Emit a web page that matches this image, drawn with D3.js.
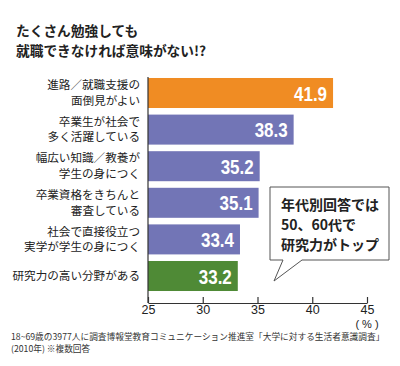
<!DOCTYPE html>
<html>
<head>
<meta charset="utf-8">
<script src="https://cdn.jsdelivr.net/npm/d3@7"></script>
<style>
  body { margin: 0; background: #fff; }
  svg { display: block; }
</style>
</head>
<body>
<svg id="chart" width="400" height="366"></svg>
<script>
// Chart data
const titleLines = ['たくさん勉強しても', '就職できなければ意味がない!?'];
const categories = [
    ['進路／就職支援の', '面倒見がよい'],
    ['卒業生が社会で', '多く活躍している'],
    ['幅広い知識／教養が', '学生の身につく'],
    ['卒業資格をきちんと', '審査している'],
    ['社会で直接役立つ', '実学が学生の身につく'],
    ['研究力の高い分野がある']
];
const values = [41.9, 38.3, 35.2, 35.1, 33.4, 33.2];
const barColors = ['#f08c23', '#7275b6', '#7275b6', '#7275b6', '#7275b6', '#4f8a36'];
const xTicks = [25, 30, 35, 40, 45];
const calloutLines = ['年代別回答では', '50、60代で', '研究力がトップ'];
const footnoteLines = [
    '18~69歳の3977人に調査博報堂教育コミュニケーション推進室「大学に対する生活者意識調査」',
    '(2010年) ※複数回答'
];

const jpFont = '"Noto Sans CJK JP", "Noto Sans", sans-serif';
const numFont = '"Liberation Sans", "DejaVu Sans", sans-serif';

const svg = d3.select('#chart');

// Scales
const x = d3.scaleLinear().domain([25, 45]).range([148, 367]);
const y = d3.scaleBand()
    .domain(d3.range(values.length))
    .range([74.7, 294.3])
    .paddingInner(0.18)
    .paddingOuter(0.09);

// Title
svg.append('g').selectAll('text')
    .data(titleLines)
    .enter().append('text')
    .attr('x', 16)
    .attr('y', (d, i) => 36 + i * 19.5)
    .attr('font-family', jpFont)
    .attr('font-weight', 'bold')
    .attr('font-size', 13.7)
    .attr('fill', '#222')
    .text(d => d);

// Bars
const bars = svg.append('g');
bars.selectAll('rect')
    .data(values)
    .enter().append('rect')
    .attr('x', x(25))
    .attr('y', (d, i) => y(i))
    .attr('width', d => x(d) - x(25))
    .attr('height', y.bandwidth())
    .attr('fill', (d, i) => barColors[i]);

// Value labels inside bar ends (condensed look via textLength)
bars.selectAll('text')
    .data(values)
    .enter().append('text')
    .attr('x', d => x(d) - 6)
    .attr('y', (d, i) => y(i) + y.bandwidth() / 2 + 7.5)
    .attr('text-anchor', 'end')
    .attr('font-family', numFont)
    .attr('font-weight', 'bold')
    .attr('font-size', 21)
    .attr('textLength', 33)
    .attr('lengthAdjust', 'spacingAndGlyphs')
    .attr('fill', '#fff')
    .text(d => d.toFixed(1));

// Category labels (one or two lines)
const labels = svg.append('g')
    .selectAll('text')
    .data(categories)
    .enter().append('text')
    .attr('text-anchor', 'end')
    .attr('font-family', jpFont)
    .attr('font-size', 11.6)
    .attr('fill', '#222');
labels.each(function(lines, i) {
    const mid = y(i) + y.bandwidth() / 2;
    const lh = 15.5;
    const top = mid - (lines.length - 1) * lh / 2;
    d3.select(this).selectAll('tspan')
        .data(lines)
        .enter().append('tspan')
        .attr('x', 140)
        .attr('y', (d, j) => top + j * lh + 4)
        .text(d => d);
});

// Axes
const axisY = 303;
svg.append('line')
    .attr('x1', x(25)).attr('x2', x(25))
    .attr('y1', 77).attr('y2', axisY)
    .attr('stroke', '#333').attr('stroke-width', 1.2);

const xAxis = d3.axisBottom(x)
    .tickValues(xTicks)
    .tickSizeInner(-6)
    .tickSizeOuter(0)
    .tickPadding(2);
const gx = svg.append('g')
    .attr('transform', `translate(0,${axisY})`)
    .call(xAxis);
gx.select('.domain').attr('stroke', '#333').attr('stroke-width', 1.2);
gx.selectAll('.tick line').attr('stroke', '#333').attr('stroke-width', 1.2);
gx.selectAll('.tick text')
    .attr('font-family', '"Liberation Sans", sans-serif')
    .attr('font-size', 12.5)
    .attr('fill', '#222');

svg.append('text')
    .attr('x', x(45))
    .attr('y', 327.5)
    .attr('text-anchor', 'middle')
    .attr('font-family', '"Liberation Sans", sans-serif')
    .attr('font-size', 11)
    .attr('fill', '#222')
    .text('( % )');

// Callout box
const callout = svg.append('g');
callout.append('path')
    .attr('d', 'M270,187 H389 V260 H302 L274,281 L283,260 H270 Z')
    .attr('fill', '#fff')
    .attr('stroke', '#555')
    .attr('stroke-width', 1);
callout.selectAll('text')
    .data(calloutLines)
    .enter().append('text')
    .attr('x', 281)
    .attr('y', (d, i) => 210 + i * 20)
    .attr('font-family', jpFont)
    .attr('font-weight', 'bold')
    .attr('font-size', 14)
    .attr('fill', '#222')
    .text(d => d);

// Footnote
svg.append('g').selectAll('text')
    .data(footnoteLines)
    .enter().append('text')
    .attr('x', 11)
    .attr('y', (d, i) => 340 + i * 12)
    .attr('font-family', jpFont)
    .attr('font-size', 8.7)
    .attr('fill', '#333')
    .text(d => d);
</script>
</body>
</html>
